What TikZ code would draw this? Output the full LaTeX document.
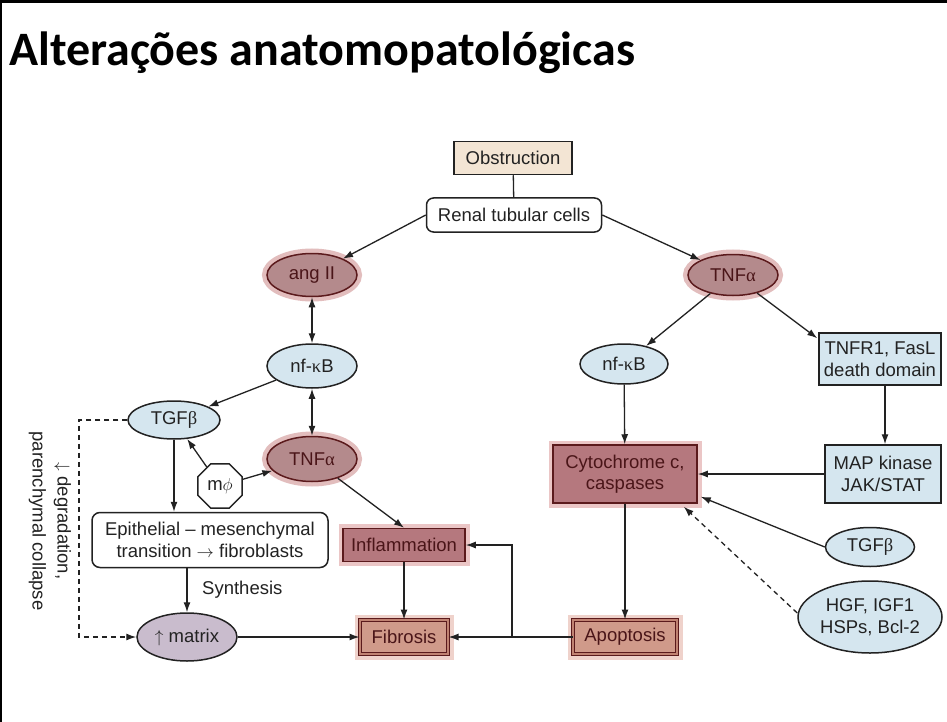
\documentclass[tikz,border=0pt]{standalone}
\usepackage{fontspec}
\setmainfont{Liberation Sans}
\newfontfamily\titlefont{Carlito}
\newfontfamily\grkfont{Liberation Serif}
\usetikzlibrary{shapes.geometric,arrows.meta,calc}
\definecolor{ink}{HTML}{222222}
\definecolor{dred}{HTML}{5B1A1C}
\definecolor{dtext}{HTML}{4A1518}
\definecolor{mauve}{HTML}{B48A8C}
\definecolor{mhalo}{HTML}{E2BDBD}
\definecolor{rose}{HTML}{B5787E}
\definecolor{rhalo}{HTML}{EBC6C6}
\definecolor{salmon}{HTML}{D09A8A}
\definecolor{salmid}{HTML}{C08272}
\definecolor{shalo}{HTML}{EFD2CB}
\definecolor{lblue}{HTML}{D5E6EF}
\definecolor{lpurp}{HTML}{C9BCCD}
\definecolor{beige}{HTML}{F3E5D4}
\newcommand{\gk}[1]{{\grkfont #1}}
\begin{document}
\begin{tikzpicture}[x=1pt,y=-1pt,
  txt/.style={font=\fontsize{18.5}{21.5}\selectfont, text=ink, align=center, inner sep=0pt},
  ellbase/.style={txt, ellipse, line width=1.5pt},
  blueell/.style={ellbase, draw=ink, fill=lblue},
  mauveell/.style={ellbase, draw=dred, fill=mauve, text=dtext, preaction={draw=mhalo, line width=10pt}},
  purpell/.style={ellbase, draw=ink, fill=lpurp},
  boxbase/.style={txt, rectangle, line width=1.5pt},
  bluebox/.style={boxbase, draw=ink, fill=lblue},
  obsbox/.style={boxbase, draw=ink, fill=beige},
  whitebox/.style={boxbase, draw=ink, fill=white, rounded corners=7pt},
  rosebox/.style={boxbase, draw=dred, fill=rose, text=dtext, preaction={draw=rhalo, line width=9pt}},
  salbox/.style={boxbase, draw=dred, fill=salmon, text=dtext, line width=1pt, double=salmid, double distance=1.2pt, preaction={draw=shalo, line width=11pt}},
  octo/.style={txt, regular polygon, regular polygon sides=8, draw=ink, fill=white, line width=1.5pt, minimum size=48pt},
  arr/.style={draw=ink, line width=1.3pt, -{Latex[length=10pt,width=7pt]}},
  darr/.style={draw=ink, line width=1.3pt, {Latex[length=10pt,width=7pt]}-{Latex[length=10pt,width=7pt]}},
  plain/.style={draw=ink, line width=1.3pt},
  dasharr/.style={arr, dash pattern=on 5pt off 4pt},
]
\useasboundingbox (0,0) rectangle (947,722);
\fill[white] (0,0) rectangle (947,722);
\draw[line width=3pt] (0,2) -- (947,2);
\draw[line width=2pt] (1,0) -- (1,722);

\node[anchor=base west, inner sep=0pt, font=\titlefont\bfseries\fontsize{48}{52}\selectfont] (title) at (9,66) {Alterações anatomopatológicas};

% nodes
\node[obsbox, minimum width=118, minimum height=33] (obs) at (513,158) {Obstruction};
\node[whitebox, minimum width=175, minimum height=34] (ren) at (514,215) {Renal tubular cells};
\node[mauveell, minimum width=90, minimum height=43] (ang) at (312,275) {ang II};
\node[mauveell, minimum width=90, minimum height=41] (tnfR) at (733,275) {TNF\gk{α}};
\node[blueell, minimum width=90, minimum height=44] (nfL) at (312,366) {nf-\gk{κ}B};
\node[blueell, minimum width=88, minimum height=40] (nfR) at (624,364) {nf-\gk{κ}B};
\node[bluebox, minimum width=122, minimum height=52] (tnfr1) at (880,359) {TNFR1, FasL\\death domain};
\node[blueell, minimum width=92, minimum height=38] (tgfL) at (174,420) {TGF\gk{β}};
\node[mauveell, minimum width=90, minimum height=45] (tnfL) at (312,459) {TNF\gk{α}};
\node[octo] (mphi) at (220,486) {m$\phi$};
\node[rosebox, minimum width=144, minimum height=58] (cyto) at (625,474) {Cytochrome c,\\caspases};
\node[bluebox, minimum width=116, minimum height=58] (map) at (883,474) {MAP kinase\\JAK/STAT};
\node[whitebox, rounded corners=8pt, minimum width=236, minimum height=55] (epi) at (210,540) {Epithelial -- mesenchymal\\transition $\rightarrow$ fibroblasts};
\node[rosebox, minimum width=122, minimum height=33] (infl) at (404,545) {Inflammation};
\node[blueell, minimum width=89, minimum height=39] (tgfR) at (870,547) {TGF\gk{β}};
\node[blueell, minimum width=144, minimum height=72] (hgf) at (870,617) {HGF, IGF1\\HSPs, Bcl-2};
\node[purpell, minimum width=100, minimum height=48] (mat) at (187,637) {$\uparrow$ matrix};
\node[salbox, minimum width=88, minimum height=34] (fib) at (404,637) {Fibrosis};
\node[salbox, minimum width=104, minimum height=34] (apo) at (625,637) {Apoptosis};
\node[txt, anchor=west] (syn) at (202,590) {Synthesis};
\node[txt, rotate=-90, font=\fontsize{18.5}{25}\selectfont] (deg) at (50,521) {$\downarrow$ degradation,\\parenchymal collapse};

\coordinate (dl) at (79,0);
\coordinate (j) at (512,637);
\coordinate (tmap) at (885,0);

% connectors
\draw[plain] (obs) -- (ren);
\draw[arr] (ren.west) -- (ang);
\draw[arr] (ren.east) -- (tnfR);
\draw[darr] (ang) -- (nfL);
\draw[arr] (nfL) -- (tgfL);
\draw[darr] (nfL) -- (tnfL);
\draw[arr] (tgfL) -- (tgfL |- epi.north);
\draw[arr] (mphi) -- (tgfL);
\draw[arr] (mphi) -- (tnfL);
\draw[arr] (epi.south -| mat) -- (mat);
\draw[arr] (tnfL) -- (infl.north);
\draw[arr] (infl) -- (fib);
\draw[arr] (mat) -- (fib);
\draw[arr] (apo) -- (fib);
\draw[arr] (j) |- (infl.east);
\draw[dasharr] (tgfL.west) -- (tgfL.west -| dl) |- (mat.west);
\draw[arr] (tnfR) -- (nfR);
\draw[arr] (tnfR) -- ($(tnfr1.north west)+(-1,6)$);
\draw[arr] (nfR) -- (cyto);
\draw[arr] (tnfr1.south -| tmap) -- (map.north -| tmap);
\draw[arr] (map.west) -- (map.west -| cyto.east);
\draw[arr] (tgfR.west) -- ($(cyto.south east)+(3,-7)$);
\draw[dasharr] ($(hgf.west)+(0,-4)$) -- ($(cyto.south east)+(-14,3)$);
\draw[arr] (cyto) -- (apo);
\end{tikzpicture}
\end{document}
